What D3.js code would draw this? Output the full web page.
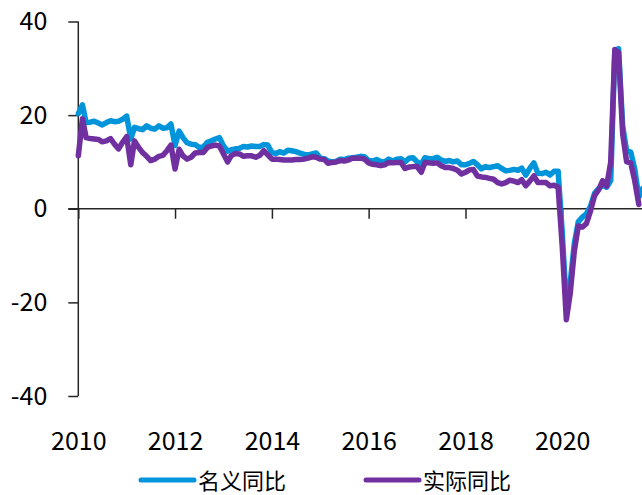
<!DOCTYPE html>
<html>
<head>
<meta charset="utf-8">
<script src="https://cdn.jsdelivr.net/npm/d3@7"></script>
<style>
  html, body { margin: 0; padding: 0; background: #fff; }
  svg { display: block; }
  text { font-family: "Noto Sans CJK SC", "Noto Sans", sans-serif; fill: #000; }
</style>
</head>
<body>
<svg id="chart" width="642" height="495"></svg>
<script>
// ---------- data ----------
const startMonth = "2010-01";              // first monthly observation
const yTicks = [-40, -20, 0, 20, 40];
const xTickYears = [2010, 2012, 2014, 2016, 2018, 2020];
const seriesNames = ["名义同比", "实际同比"];

// 名义同比 (nominal yoy, %), monthly from 2010-01
const nominal = [
  20.3, 22.2, 18.4, 18.5, 18.7, 18.3, 17.9, 18.4, 18.8, 18.6, 18.7, 19.1, // 2010
  19.8, 14.9, 17.4, 17.1, 16.9, 17.7, 17.2, 17.0, 17.7, 17.2, 17.3, 18.1, // 2011
  13.5, 16.6, 15.2, 14.1, 13.8, 13.7, 13.1, 13.2, 14.2, 14.5, 14.9, 15.2, // 2012
  13.4, 12.3, 12.6, 12.8, 12.9, 13.3, 13.2, 13.4, 13.3, 13.3, 13.7, 13.6, // 2013
  12.0, 11.8, 12.2, 11.9, 12.5, 12.4, 12.2, 11.9, 11.6, 11.5, 11.7, 11.9, // 2014
  10.8, 10.7, 10.2, 10.0, 10.1, 10.6, 10.5, 10.8, 10.9, 11.0, 11.2, 11.1, // 2015
  10.3, 10.2, 10.5, 10.1, 10.0, 10.6, 10.2, 10.6, 10.7, 10.0, 10.8, 10.9, // 2016
  10.0,  9.5, 10.9, 10.7, 10.7, 11.0, 10.4, 10.1, 10.3, 10.0, 10.2,  9.4, // 2017
   9.4,  9.7, 10.1,  9.4,  8.5,  9.0,  8.8,  9.0,  9.2,  8.6,  8.1,  8.2, // 2018
   8.4,  8.2,  8.7,  7.2,  8.6,  9.8,  7.6,  7.5,  7.8,  7.2,  8.0,  8.0, // 2019
  -5.0,-20.5,-15.8, -7.5, -2.8, -1.8, -1.1,  0.5,  3.3,  4.3,  5.0,  4.6, // 2020
   6.0, 33.8, 34.2, 17.7, 12.4, 12.1,  8.5,  2.5,  4.4                    // 2021
];

// 实际同比 (real yoy, %), monthly from 2010-01
const real = [
  11.3, 19.2, 15.2, 15.0, 14.9, 14.8, 14.3, 14.5, 15.0, 13.8, 12.8, 14.2, // 2010
  15.4,  9.4, 14.5, 13.1, 12.0, 11.2, 10.3, 10.6, 11.2, 11.4, 12.4, 13.6, // 2011
   8.5, 12.7, 11.3, 10.6, 11.0, 11.9, 12.0, 12.0, 13.1, 13.4, 13.6, 13.4, // 2012
  11.7, 10.0, 11.4, 11.8, 11.7, 11.2, 11.3, 11.3, 11.0, 11.4, 12.4, 11.5, // 2013
  10.6, 10.6, 10.5, 10.4, 10.4, 10.4, 10.5, 10.5, 10.6, 10.8, 11.1, 11.0, // 2014
  10.6, 10.5,  9.7,  9.9, 10.0, 10.3, 10.2, 10.4, 10.8, 10.8, 10.8, 10.6, // 2015
   9.8,  9.5,  9.4,  9.2,  9.4,  9.9,  9.8,  9.9,  9.9,  8.6,  8.9,  9.0, // 2016
   9.0,  7.8,  9.9,  9.8,  9.7,  9.8,  9.2,  8.8,  8.8,  8.6,  8.2,  7.4, // 2017
   7.8,  8.3,  8.4,  7.0,  6.8,  6.7,  6.5,  6.3,  5.6,  5.3,  5.6,  6.1, // 2018
   5.9,  5.6,  6.2,  4.9,  5.9,  7.0,  5.6,  5.6,  5.6,  4.9,  5.0,  4.6, // 2019
  -8.0,-23.7,-18.1, -9.1, -3.7, -3.9, -3.2, -0.5,  2.8,  4.0,  6.0,  4.8, // 2020
  10.0, 34.0, 33.4, 16.0, 10.0,  9.8,  6.0,  0.9                          // 2021
];

// ---------- layout ----------
const W = 642, H = 495;
const plot = { left: 78.3, top: 21.5, bottom: 396 };
const colors = { nominal: "#0094DA", real: "#7030A0", axis: "#262626" };

const svg = d3.select("#chart");
const parseMonth = d3.timeParse("%Y-%m");
const t0 = parseMonth(startMonth);
const dateAt = i => d3.timeMonth.offset(t0, i);

const x = d3.scaleTime()
  .domain([new Date(2010, 0, 1), new Date(2022, 0, 1)])
  .range([plot.left, plot.left + 6 * 96.8]);
const y = d3.scaleLinear().domain([-40, 40]).range([plot.bottom, plot.top]);

// ---------- axes ----------
const yAxis = d3.axisLeft(y).tickValues(yTicks).tickSize(10).tickPadding(21)
  .tickFormat(d3.format("d"));
const gy = svg.append("g").attr("transform", `translate(${plot.left},0)`).call(yAxis);
gy.select(".domain").attr("stroke", colors.axis).attr("stroke-width", 1.5)
  .attr("d", `M0,${y(40)}V${y(-40)}`);
gy.selectAll(".tick line").attr("stroke", colors.axis).attr("stroke-width", 1.5);
gy.selectAll(".tick text").attr("font-size", 25).attr("fill", "#000")
  .attr("font-family", '"Noto Sans CJK SC", sans-serif')
  .text(d => d < 0 ? "-" + Math.abs(d) : d);

const xAxis = d3.axisBottom(x)
  .tickValues(xTickYears.map(yr => new Date(yr, 0, 1)))
  .tickSize(10).tickPadding(0).tickFormat(d3.timeFormat("%Y"));
const gx = svg.append("g").attr("transform", `translate(0,${y(0)})`).call(xAxis);
gx.select(".domain").attr("stroke", colors.axis).attr("stroke-width", 1.5)
  .attr("d", `M${plot.left - 10},0H${W}`);
gx.selectAll(".tick line").attr("stroke", colors.axis).attr("stroke-width", 1.5);
gx.selectAll(".tick text").attr("font-size", 25).attr("fill", "#000")
  .attr("font-family", '"Noto Sans CJK SC", sans-serif')
  .attr("y", 0).attr("dy", 0)
  .attr("transform", `translate(0,${439 - y(0)})`)
  .attr("dominant-baseline", "central");

// ---------- lines ----------
const lineFor = arr => d3.line()
  .x(d => x(d.date)).y(d => y(d.v))(arr.map((v, i) => ({ date: dateAt(i), v })));

svg.append("path").attr("d", lineFor(nominal))
  .attr("fill", "none").attr("stroke", colors.nominal).attr("stroke-width", 5.5)
  .attr("stroke-linejoin", "round").attr("stroke-linecap", "round");
svg.append("path").attr("d", lineFor(real))
  .attr("fill", "none").attr("stroke", colors.real).attr("stroke-width", 5.5)
  .attr("stroke-linejoin", "round").attr("stroke-linecap", "round");

// ---------- legend ----------
const legendItems = [
  { name: seriesNames[0], color: colors.nominal, x0: 141 },
  { name: seriesNames[1], color: colors.real, x0: 366 }
];
const lg = svg.append("g");
legendItems.forEach(it => {
  lg.append("line").attr("x1", it.x0).attr("x2", it.x0 + 53)
    .attr("y1", 480).attr("y2", 480)
    .attr("stroke", it.color).attr("stroke-width", 5).attr("stroke-linecap", "round");
  lg.append("text").attr("x", it.x0 + 57).attr("y", 479)
    .attr("dominant-baseline", "central")
    .attr("font-size", 22).text(it.name);
});
</script>
</body>
</html>
